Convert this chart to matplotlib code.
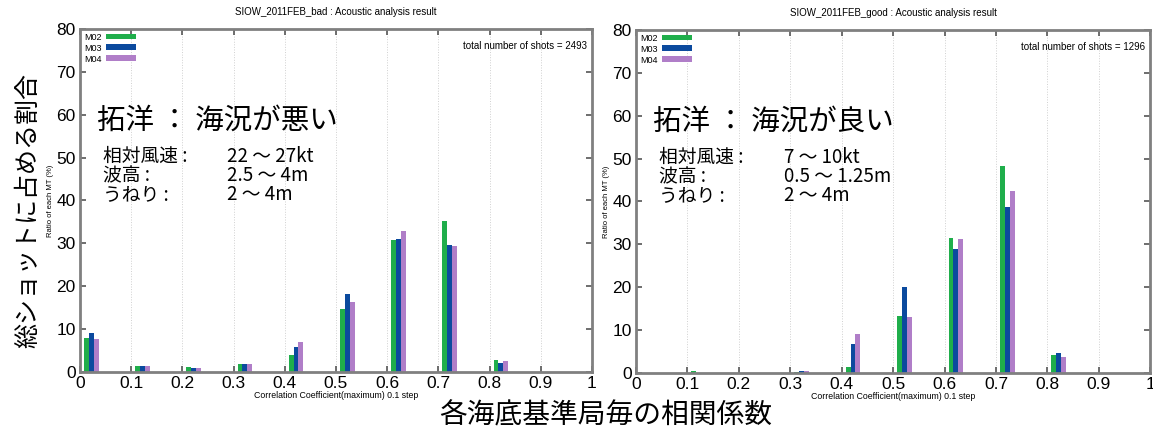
import matplotlib
matplotlib.use('Agg')
import matplotlib.pyplot as plt
import numpy as np

# bins of the correlation coefficient (left edge of each 0.1 step)
bins = np.arange(0.0, 1.0, 0.1)
stations = ["M02", "M03", "M04"]
colors = ["#1fae4b", "#0b4a9e", "#b07ec8"]

# ratio of each MT (%) -- rough sea (bad)
bad_m02 = [8.0, 1.5, 1.2, 1.9, 4.0, 14.6, 30.7, 35.3, 2.9, 0.0]
bad_m03 = [9.0, 1.4, 1.0, 1.9, 5.8, 18.3, 31.0, 29.6, 2.0, 0.0]
bad_m04 = [7.6, 1.5, 1.0, 1.8, 7.0, 16.4, 33.0, 29.4, 2.5, 0.0]
bad_total = 2493

# ratio of each MT (%) -- calm sea (good)
good_m02 = [0.1, 0.5, 0.0, 0.2, 1.5, 13.3, 31.5, 48.2, 4.3, 0.0]
good_m03 = [0.0, 0.0, 0.0, 0.5, 6.8, 20.0, 29.0, 38.8, 4.6, 0.0]
good_m04 = [0.0, 0.0, 0.0, 0.4, 9.0, 13.0, 31.2, 42.5, 3.7, 0.0]
good_total = 1296

cond_labels = ["相対風速 :", "波高 :", "うねり :"]
bad_cond = ["22 〜 27kt", "2.5 〜 4m", "2 〜 4m"]
good_cond = ["7 〜 10kt", "0.5 〜 1.25m", "2 〜 4m"]

JP = ["Noto Sans CJK JP", "DejaVu Sans"]
plt.rcParams['font.family'] = ["Liberation Sans", "DejaVu Sans"]


def draw_panel(ax, series, total, name, heading, conds):
    width = 0.0095
    for i, (vals, c, lab) in enumerate(zip(series, colors, stations)):
        ax.bar(bins + 0.0125 + i * width, vals, width=width, color=c,
               linewidth=0, label=lab)
    ax.set_xlim(0, 1)
    ax.set_ylim(0, 80)
    ax.set_xticks(np.arange(0, 1.01, 0.1))
    ax.set_xticklabels(["0", "0.1", "0.2", "0.3", "0.4", "0.5", "0.6",
                        "0.7", "0.8", "0.9", "1"])
    ax.set_yticks(np.arange(0, 81, 10))
    ax.tick_params(direction='in', top=True, right=True, labelsize=12.5,
                   length=4, width=1.2, color='#555555', pad=3)
    for sp in ax.spines.values():
        sp.set_color('#808080')
        sp.set_linewidth(2)
    for x in np.arange(0.1, 0.95, 0.1):
        ax.axvline(x, color='#d0d0d0', linestyle=':', linewidth=0.7, zorder=0)
    ax.set_title(f"{name} : Acoustic analysis result", fontsize=7, pad=10)
    ax.set_xlabel("Correlation Coefficient(maximum) 0.1 step", fontsize=6.3,
                  labelpad=0)
    ax.set_ylabel("Ratio of each MT (%)", fontsize=5.5, labelpad=2)
    ax.text(0.99, 0.965, f"total number of shots = {total}", fontsize=7,
            transform=ax.transAxes, ha='right', va='top')
    leg = ax.legend(loc='upper left', frameon=False, fontsize=6.5,
                    markerfirst=False, handlelength=3.3, handleheight=0.4,
                    labelspacing=0.2, borderaxespad=0.15, borderpad=0.3,
                    handletextpad=0.5)
    for h in leg.legend_handles:
        h.set_height(4)
    ax.text(0.033, 58.7, heading, fontsize=20.5, family=JP, va='center')
    # condition block: one text per column, rows ~20 px apart
    ax.text(0.045, 45.8, "\n".join(cond_labels), fontsize=13.5, family=JP,
            va='center', linespacing=0.88)
    ax.text(0.287, 45.8, "\n".join(conds), fontsize=13.5, family=JP,
            va='center', linespacing=0.88)


fig = plt.figure(figsize=(11.53, 4.30), dpi=100)
ax1 = fig.add_axes([0.0694, 0.1349, 0.4440, 0.7977])
ax2 = fig.add_axes([0.5516, 0.1326, 0.4460, 0.7977])

draw_panel(ax1, [bad_m02, bad_m03, bad_m04], bad_total, "SIOW_2011FEB_bad",
           "拓洋 ： 海況が悪い", bad_cond)
draw_panel(ax2, [good_m02, good_m03, good_m04], good_total,
           "SIOW_2011FEB_good", "拓洋 ： 海況が良い", good_cond)

fig.text(0.025, 0.51, "総ショットに占める割合", rotation=90, fontsize=18,
         family=JP, ha='center', va='center')
fig.text(0.525, 0.035, "各海底基準局毎の相関係数", fontsize=20, family=JP,
         ha='center', va='center')

fig.savefig("out.png", dpi=100)
plt.close(fig)
